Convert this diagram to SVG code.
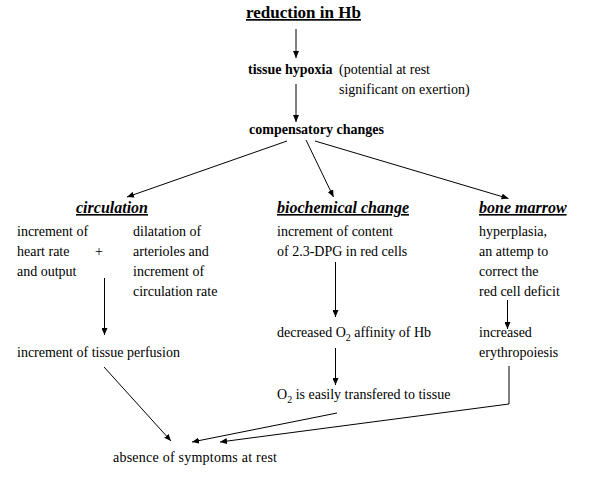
<svg xmlns="http://www.w3.org/2000/svg" width="592" height="481" viewBox="0 0 592 481">
<style>
text{font-family:"Liberation Serif","Times New Roman",serif;font-size:14px;fill:#000}
.b{font-weight:bold}
.h{font-weight:bold;font-style:italic;font-size:16px;text-decoration:underline}
.t{font-weight:bold;font-size:17px;text-decoration:underline}
.c line,.c polyline{stroke:#000;stroke-width:1;fill:none}
.sub{font-size:10px}
</style>
<defs>
<marker id="ah" viewBox="0 0 7 6" refX="7" refY="3" markerWidth="7" markerHeight="6" markerUnits="userSpaceOnUse" orient="auto">
<path d="M0,0 L7,3 L0,6 Z" fill="#000"/>
</marker>
</defs>
<rect width="592" height="481" fill="#fff"/>
<g id="n-reduction"><text class="t" x="246" y="18">reduction in Hb</text></g>
<g id="n-hypoxia"><text class="b" x="248" y="74">tissue hypoxia</text><text x="339" y="74">(potential at rest</text><text x="339" y="94">significant on exertion)</text></g>
<g id="n-compensatory"><text class="b" x="249" y="134">compensatory changes</text></g>
<g id="n-circulation"><text class="h" x="76" y="213">circulation</text>
<text x="17" y="236">increment of</text><text x="17" y="256">heart rate</text><text x="17" y="276">and output</text>
<text x="95" y="256">+</text>
<text x="133" y="236">dilatation of</text><text x="133" y="256">arterioles and</text><text x="133" y="276">increment of</text><text x="133" y="296">circulation rate</text></g>
<g id="n-biochemical"><text class="h" x="277" y="213">biochemical change</text>
<text x="277" y="236">increment of content</text><text x="277" y="256">of 2.3-DPG in red cells</text></g>
<g id="n-marrow"><text class="h" x="479" y="213">bone marrow</text>
<text x="479" y="236">hyperplasia,</text><text x="479" y="256">an attemp to</text><text x="479" y="276">correct the</text><text x="479" y="296">red cell deficit</text></g>
<g id="n-perfusion"><text x="17" y="357">increment of tissue perfusion</text></g>
<g id="n-affinity"><text x="277" y="337">decreased O<tspan class="sub" dy="4">2</tspan><tspan dy="-4"> affinity of Hb</tspan></text></g>
<g id="n-erythro"><text x="479" y="337">increased</text><text x="479" y="357">erythropoiesis</text></g>
<g id="n-transfer"><text x="277" y="399">O<tspan class="sub" dy="4">2</tspan><tspan dy="-4"> is easily transfered to tissue</tspan></text></g>
<g id="n-absence"><text x="113" y="462" textLength="164">absence of symptoms at rest</text></g>
<g id="connectors" class="c">
<line x1="296" y1="29" x2="296" y2="58" marker-end="url(#ah)"/>
<line x1="296" y1="84" x2="296" y2="122" marker-end="url(#ah)"/>
<line x1="287" y1="141" x2="127" y2="197" marker-end="url(#ah)"/>
<line x1="306" y1="140" x2="333.5" y2="197" marker-end="url(#ah)"/>
<line x1="315" y1="141" x2="508.5" y2="198.5" marker-end="url(#ah)"/>
<line x1="104.5" y1="278" x2="104.5" y2="335" marker-end="url(#ah)"/>
<line x1="335.5" y1="262" x2="335.5" y2="317" marker-end="url(#ah)"/>
<line x1="507.5" y1="300" x2="507.5" y2="329" marker-end="url(#ah)"/>
<line x1="335.5" y1="348" x2="335.5" y2="385" marker-end="url(#ah)"/>
<line x1="104" y1="367" x2="171" y2="441" marker-end="url(#ah)"/>
<line x1="337" y1="413" x2="192" y2="442" marker-end="url(#ah)"/>
<polyline points="509,366 509,404 220,442" marker-end="url(#ah)"/>
</g>
</svg>
